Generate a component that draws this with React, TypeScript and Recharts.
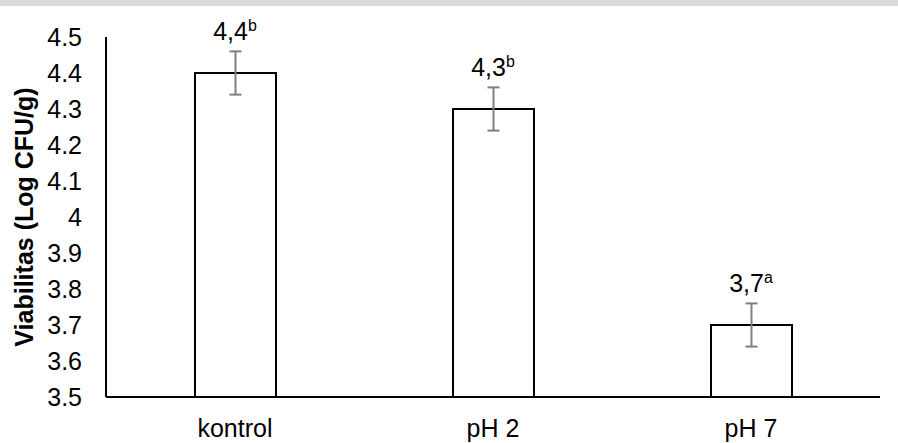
import React from 'react';
import {
  ComposedChart,
  Bar,
  Line,
  XAxis,
  YAxis,
  ErrorBar,
  LabelList,
  Label,
} from 'recharts';

// Treatments and measured viability (log CFU/g)
const categories = ['kontrol', 'pH 2', 'pH 7'];
const viability = [4.4, 4.3, 3.7];
const stdError = [0.06, 0.06, 0.06];
const valueLabels = ['4,4', '4,3', '3,7'];
const letters = ['b', 'b', 'a'];
const yTicks = [3.5, 3.6, 3.7, 3.8, 3.9, 4.0, 4.1, 4.2, 4.3, 4.4, 4.5];

const data = categories.map((name, i) => ({
  name,
  value: viability[i],
  err: stdError[i],
  top: viability[i] + stdError[i],
  label: valueLabels[i],
  letter: letters[i],
}));

const FONT = '"Liberation Sans", Arial, sans-serif';

const ValueLabel = (props: any) => {
  const { x, y, index } = props;
  const d = data[index];
  return (
    <text
      x={x}
      y={y - 11}
      textAnchor="middle"
      fontFamily={FONT}
      fontSize={25}
      fill="#000"
    >
      {d.label}
      <tspan fontSize={16} dy={-9}>
        {d.letter}
      </tspan>
    </text>
  );
};

const AxisTitle = (props: any) => {
  const { viewBox } = props;
  const cx = viewBox.x + 24;
  const cy = viewBox.y + viewBox.height / 2;
  return (
    <text
      x={cx}
      y={cy}
      transform={`rotate(-90 ${cx} ${cy})`}
      textAnchor="middle"
      dominantBaseline="central"
      fontFamily={FONT}
      fontWeight="bold"
      fontSize={25}
      fill="#000"
    >
      Viabilitas (Log CFU/g)
    </text>
  );
};

export default function App() {
  return (
    <div style={{ position: 'absolute', left: 0, top: 0, width: 898, height: 443, background: '#fff' }}>
      <div style={{ position: 'absolute', left: 0, top: 0, width: 898, height: 6, background: '#d9d9d9' }} />
      <ComposedChart
        width={898}
        height={443}
        data={data}
        margin={{ top: 37, right: 18, bottom: 0, left: 0 }}
        style={{ fontFamily: FONT }}
      >
        <XAxis
          dataKey="name"
          height={46}
          axisLine={{ stroke: '#000', strokeWidth: 2 }}
          tickLine={false}
          tickSize={0}
          tickMargin={22}
          tick={{ fontSize: 25, fill: '#000', fontFamily: FONT }}
        />
        <YAxis
          width={106}
          domain={[3.5, 4.5]}
          ticks={yTicks}
          interval={0}
          allowDataOverflow
          axisLine={{ stroke: '#000', strokeWidth: 2 }}
          tickLine={false}
          tickSize={0}
          tickMargin={24}
          tick={{ fontSize: 25, fill: '#000', fontFamily: FONT }}
          tickFormatter={(v: number) => String(Math.round(v * 10) / 10)}
        >
          <Label content={<AxisTitle />} />
        </YAxis>
        <Bar
          dataKey="value"
          fill="#fff"
          stroke="#000"
          strokeWidth={2}
          barSize={81}
          isAnimationActive={false}
        >
          <ErrorBar dataKey="err" direction="y" width={6} stroke="#7f7f7f" strokeWidth={2} />
        </Bar>
        <Line
          dataKey="top"
          stroke="none"
          dot={false}
          activeDot={false}
          isAnimationActive={false}
        >
          <LabelList dataKey="top" content={<ValueLabel />} />
        </Line>
      </ComposedChart>
    </div>
  );
}
